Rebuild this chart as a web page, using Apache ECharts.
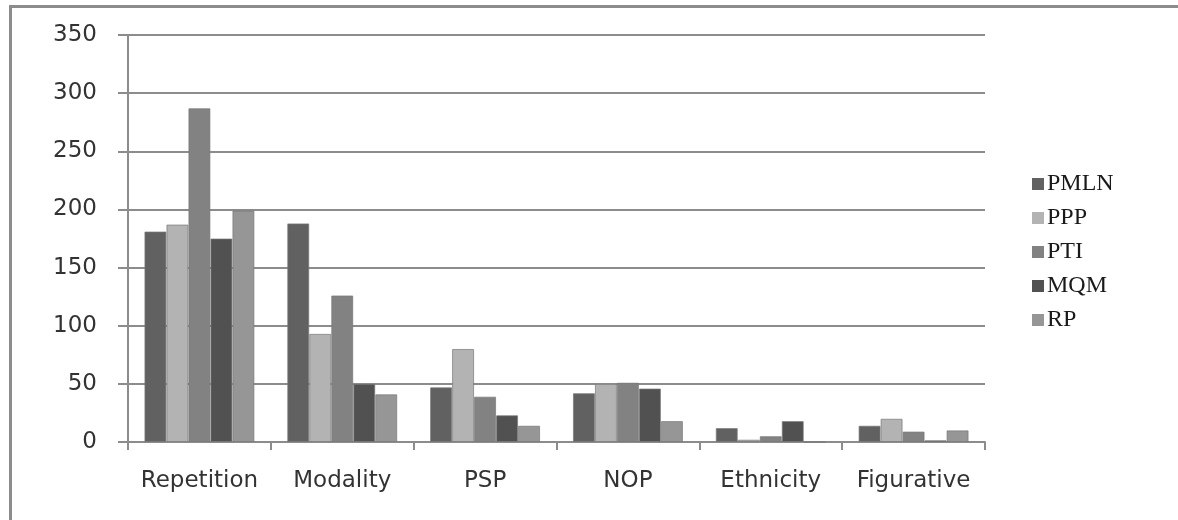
<!DOCTYPE html>
<html>
<head>
<meta charset="utf-8">
<script src="https://cdn.jsdelivr.net/npm/echarts@6/dist/echarts.min.js"></script>
<style>
html,body{margin:0;padding:0;background:#fff;}
#c{width:1178px;height:520px;}
</style>
</head>
<body>
<div id="c"></div>
<script>
const categories = ['Repetition','Modality','PSP','NOP','Ethnicity','Figurative'];
const seriesNames = ['PMLN','PPP','PTI','MQM','RP'];
const PMLN = [181, 188, 47, 42, 12, 14];
const PPP  = [187, 93, 80, 50, 2, 20];
const PTI  = [287, 126, 39, 51, 5, 9];
const MQM  = [175, 50, 23, 46, 18, 1.5];
const RP   = [199, 41, 14, 18, 0, 10];
const yTicks = {min:0, max:350, interval:50};

const colors = ['#616161','#b3b3b3','#828282','#515151','#969696'];
const values = [PMLN, PPP, PTI, MQM, RP];

const chart = echarts.init(document.getElementById('c'));
chart.setOption({
  animation:false,
  backgroundColor:'#ffffff',
  graphic:[{type:'rect',shape:{x:10.5,y:6.5,width:2000,height:2000},style:{fill:'none',stroke:'#8c8c8c',lineWidth:3},silent:true}],
  grid:{left:128,right:193,top:35,bottom:78,containLabel:false},
  legend:{
    orient:'vertical', left:1032, top:172, padding:0,
    itemWidth:12, itemHeight:12, itemGap:10,
    icon:'rect',
    itemStyle:{borderWidth:0},
    textStyle:{fontFamily:'Liberation Serif', fontSize:24, color:'#1a1a1a', padding:[0,0,0,-2]},
    data:seriesNames
  },
  xAxis:{
    type:'category', data:categories,
    axisLine:{lineStyle:{color:'#8c8c8c',width:2}},
    axisTick:{show:true,length:8,lineStyle:{color:'#8c8c8c',width:2}},
    axisLabel:{margin:28,fontFamily:'DejaVu Sans',fontSize:23,color:'#333',interval:0}
  },
  yAxis:{
    type:'value', min:yTicks.min, max:yTicks.max, interval:yTicks.interval,
    axisLine:{show:true,lineStyle:{color:'#8c8c8c',width:2}},
    axisTick:{show:true,length:10,lineStyle:{color:'#8c8c8c',width:2}},
    splitLine:{lineStyle:{color:'#8c8c8c',width:2}},
    axisLabel:{margin:31,fontFamily:'DejaVu Sans',fontSize:23,color:'#333'}
  },
  series: seriesNames.map((n,i)=>({
    name:n, type:'bar', data:values[i],
    barGap:'0%', barCategoryGap:'23%',
    itemStyle:{color:colors[i], borderColor:'rgba(120,120,120,0.7)', borderWidth:1}
  }))
});
</script>
</body>
</html>
